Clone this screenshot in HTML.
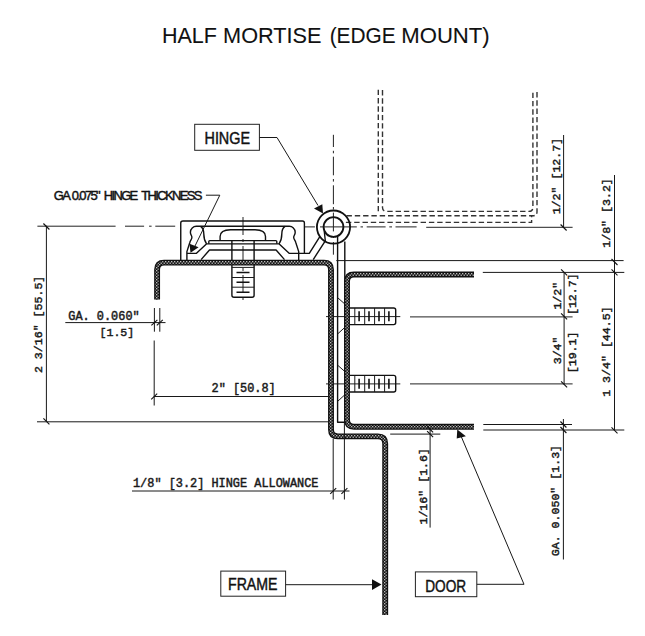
<!DOCTYPE html><html><head><meta charset="utf-8"><style>html,body{margin:0;padding:0;background:#fff;width:645px;height:636px;overflow:hidden}svg{display:block}</style></head><body>
<svg width="645" height="636" viewBox="0 0 645 636">
<defs>
<pattern id="dots" width="3" height="3" patternUnits="userSpaceOnUse">
<rect width="3" height="3" fill="#111"/>
<rect x="0.1" y="0.1" width="1.2" height="1.2" fill="#e6e6e6"/>
<rect x="1.6" y="1.6" width="1.2" height="1.2" fill="#e6e6e6"/>
</pattern>
</defs>
<rect width="645" height="636" fill="#fff"/>
<text x="161.9" y="43.2" font-family="Liberation Sans" font-size="22.8" fill="#111" stroke="#111" stroke-width="0.1" textLength="54.9" lengthAdjust="spacingAndGlyphs">HALF</text>
<text x="223.1" y="43.2" font-family="Liberation Sans" font-size="22.8" fill="#111" stroke="#111" stroke-width="0.1" textLength="98.4" lengthAdjust="spacingAndGlyphs">MORTISE</text>
<text x="329.7" y="43.2" font-family="Liberation Sans" font-size="22.8" fill="#111" stroke="#111" stroke-width="0.1" textLength="65.9" lengthAdjust="spacingAndGlyphs">(EDGE</text>
<text x="401.3" y="43.2" font-family="Liberation Sans" font-size="22.8" fill="#111" stroke="#111" stroke-width="0.1" textLength="88.4" lengthAdjust="spacingAndGlyphs">MOUNT)</text>
<path d="M378.3,89.7 V212.7" fill="none" stroke="#333" stroke-width="1.4" stroke-dasharray="5.4 2.9"/>
<path d="M346.5,215.7 H533 Q537,215.7 537,211.7 V90" fill="none" stroke="#333" stroke-width="1.4" stroke-dasharray="5.4 2.9"/>
<path d="M382.5,90 V207.4 Q382.5,211.4 386.5,211.4 H528.9 Q532.9,211.4 532.9,207.4 V90" fill="none" stroke="#333" stroke-width="1.4" stroke-dasharray="5.4 2.9"/>
<path d="M345.9,222.4 H531.6 V216" fill="none" stroke="#333" stroke-width="1.4" stroke-dasharray="5.4 2.9"/>
<path d="M37.4,226.2 H115.6 M125,226.2 H144.1 M149.1,226.2 H151.6 M155.3,226.2 H175.2 M305,226.9 H314.9 M320,226.9 H356.8 M360.5,226.9 H363 M366.7,226.9 H385.6 M389.3,226.9 H392 M395.5,226.9 H416.6 M426.2,227.3 H572.6" stroke="#222" stroke-width="1" fill="none"/>
<path d="M333.4,134.8 V147 M333.4,150.8 V153.3 M333.4,156.7 V175.3 M333.4,179 V181.6 M333.4,185.3 V204.2 M333.4,207 V209.5 M333.4,212.6 V231.4 M333.4,236 V238 M333.4,242 V254.7" stroke="#222" stroke-width="1" fill="none"/>
<path d="M243,217 V303.5" fill="none" stroke="#222" stroke-width="1" stroke-dasharray="18 4 3 4"/>
<path d="M326,316.6 H400.3 M410,316.9 H572.6 M326,383.9 H400.3 M410,383.9 H572.6" stroke="#222" stroke-width="1" fill="none"/>
<path d="M180.75,260 V223 Q180.75,221 183,221 H302.4 Q304.4,221 304.4,223 V253.4" fill="none" stroke="#111" stroke-width="1.4" stroke-linejoin="round"/>
<path d="M242.8,226.3 H289 A5.9,5.9 0 0 1 295.2,232.2 C295.2,234.8 293.7,235.5 293.7,237.3 C293.7,239.4 295.2,240.3 295.7,242.2 L298.7,251.6 V260" fill="none" stroke="#111" stroke-width="1.4" stroke-linejoin="round"/>
<path d="M242.8,226.3 H196.60000000000002 A5.9,5.9 0 0 0 190.40000000000003,232.2 C190.40000000000003,234.8 191.90000000000003,235.5 191.90000000000003,237.3 C191.90000000000003,239.4 190.40000000000003,240.3 189.90000000000003,242.2 L186.90000000000003,251.6 V260" fill="none" stroke="#111" stroke-width="1.4" stroke-linejoin="round"/>
<path d="M285,226.4 C282.5,228 281.8,231 281.8,234 C281.8,238 281.4,240.5 279,243.8" fill="none" stroke="#111" stroke-width="1.4" stroke-linejoin="round"/>
<path d="M200.60000000000002,226.4 C203.10000000000002,228 203.8,231 203.8,234 C203.8,238 204.20000000000005,240.5 206.60000000000002,243.8" fill="none" stroke="#111" stroke-width="1.4" stroke-linejoin="round"/>
<path d="M220.10000000000002,240.8 V236.5 C220.10000000000002,231.5 224.60000000000002,229.7 230.60000000000002,229.7 H255 C261,229.7 265.5,231.5 265.5,236.5 V240.8" fill="none" stroke="#111" stroke-width="1.4" stroke-linejoin="round"/>
<path d="M208.8,243.8 V241.6 Q208.8,240.6 209.8,240.6 H275.8 Q276.8,240.6 276.8,241.6 V243.8" fill="none" stroke="#111" stroke-width="1.4" stroke-linejoin="round"/>
<path d="M186.90000000000003,253.4 H196.20000000000005 L206.40000000000003,243.9 H279.2 L289.4,253.4 H309.3 L320,236.4" fill="none" stroke="#111" stroke-width="1.4" stroke-linejoin="round"/>
<path d="M201.10000000000002,259.6 L209.5,250 H276.1 L284.5,259.6" fill="none" stroke="#111" stroke-width="1.4" stroke-linejoin="round"/>
<path d="M313.2,259.6 L325.3,240.8 L324.3,231.5" fill="none" stroke="#111" stroke-width="1.4" stroke-linejoin="round"/>
<circle cx="333.5" cy="227.1" r="16.6" fill="none" stroke="#111" stroke-width="1.8"/>
<circle cx="333.5" cy="227" r="9.9" fill="none" stroke="#111" stroke-width="1.8"/>
<path d="M337.6,236 V422.3 H344.8 V241.5" fill="none" stroke="#111" stroke-width="1.4" stroke-linejoin="round"/>
<path d="M338,298 L344.6,303.8 M338,333.6 L344.6,327.6 M338,365.5 L344.6,371.3 M338,401 L344.6,395" fill="none" stroke="#1a1a1a" stroke-width="1"/>
<path d="M231.9,241 V295.3 Q231.9,297.3 234,297.3 H252.1 Q254.1,297.3 254.1,295.3 V241" fill="none" stroke="#111" stroke-width="1.4" stroke-linejoin="round"/>
<path d="M231.9,267.4 H254.1 M231.9,277.5 H254.1 M231.9,287.2 H254.1" fill="none" stroke="#1a1a1a" stroke-width="1"/>
<path d="M236.5,272.5 H249.5 M236.5,282.2 H249.5 M236.5,292.2 H249.5" fill="none" stroke="#111" stroke-width="1.6"/>
<path d="M349.8,308.0 H393.7 Q395.7,308.0 395.7,310.0 V322.6 Q395.7,324.6 393.7,324.6 H349.8" fill="none" stroke="#111" stroke-width="1.4" stroke-linejoin="round"/>
<path d="M354.8,308.0 V324.6 M364.7,308.0 V324.6 M374.6,308.0 V324.6 M384.6,308.0 V324.6 " fill="none" stroke="#1a1a1a" stroke-width="1"/>
<path d="M359.1,311.3 V321.3 M369,311.3 V321.3 M379,311.3 V321.3 M388.9,311.3 V321.3 " fill="none" stroke="#111" stroke-width="1.6"/>
<path d="M349.8,375.4 H393.7 Q395.7,375.4 395.7,377.4 V390.0 Q395.7,392.0 393.7,392.0 H349.8" fill="none" stroke="#111" stroke-width="1.4" stroke-linejoin="round"/>
<path d="M354.8,375.4 V392.0 M364.7,375.4 V392.0 M374.6,375.4 V392.0 M384.6,375.4 V392.0 " fill="none" stroke="#1a1a1a" stroke-width="1"/>
<path d="M359.1,378.7 V388.7 M369,378.7 V388.7 M379,378.7 V388.7 M388.9,378.7 V388.7 " fill="none" stroke="#111" stroke-width="1.6"/>
<path d="M157.1,299.4 V269.6 Q157.1,262.6 164.1,262.6 H324 Q331,262.6 331,269.6 V429.6 Q331,436.4 337.8,436.4 H377.9 Q385.2,436.4 385.2,443.7 V615" fill="none" stroke="#111" stroke-width="5.9" stroke-linejoin="round"/>
<path d="M157.1,299.4 V269.6 Q157.1,262.6 164.1,262.6 H324 Q331,262.6 331,269.6 V429.6 Q331,436.4 337.8,436.4 H377.9 Q385.2,436.4 385.2,443.7 V615" fill="none" stroke="url(#dots)" stroke-width="3.2" stroke-linejoin="round"/>
<path d="M474,274.5 H354 Q347,274.5 347,281.5 V419.8 Q347,426.8 354,426.8 H474" fill="none" stroke="#111" stroke-width="5.9" stroke-linejoin="round"/>
<path d="M474,274.5 H354 Q347,274.5 347,281.5 V419.8 Q347,426.8 354,426.8 H474" fill="none" stroke="url(#dots)" stroke-width="3.2" stroke-linejoin="round"/>
<path d="M46.4,225.8 V421.3" fill="none" stroke="#181818" stroke-width="1"/>
<path d="M43.4,223.5 L49.4,229.5" stroke="#111" stroke-width="1.1" fill="none"/>
<path d="M43.4,418.3 L49.4,424.3" stroke="#111" stroke-width="1.1" fill="none"/>
<path d="M37,421.8 H328" fill="none" stroke="#181818" stroke-width="1"/>
<path d="M154.4,308 V331.7 M159.8,308 V331.7" fill="none" stroke="#181818" stroke-width="1"/>
<path d="M65.3,322.6 H165.5" fill="none" stroke="#181818" stroke-width="1"/>
<path d="M151.4,325.40000000000003 L157.4,319.8" stroke="#111" stroke-width="1.1" fill="none"/>
<path d="M156.8,325.40000000000003 L162.8,319.8" stroke="#111" stroke-width="1.1" fill="none"/>
<path d="M154.2,340.5 V405.5" fill="none" stroke="#181818" stroke-width="1"/>
<path d="M154.2,396.5 H328" fill="none" stroke="#181818" stroke-width="1"/>
<path d="M151.2,399.3 L157.2,393.7" stroke="#111" stroke-width="1.1" fill="none"/>
<path d="M333.2,439 V499.5 M344.4,422.5 V499.5" fill="none" stroke="#181818" stroke-width="1"/>
<path d="M132,491 H349.5" fill="none" stroke="#181818" stroke-width="1"/>
<path d="M330.2,493.8 L336.2,488.2" stroke="#111" stroke-width="1.1" fill="none"/>
<path d="M341.4,493.8 L347.4,488.2" stroke="#111" stroke-width="1.1" fill="none"/>
<path d="M563.6,135 V228" fill="none" stroke="#181818" stroke-width="1"/>
<path d="M560.6,224.5 L566.6,230.5" stroke="#111" stroke-width="1.1" fill="none"/>
<path d="M614.5,175 V430.3" fill="none" stroke="#181818" stroke-width="1"/>
<path d="M611.5,259 L617.5,265" stroke="#111" stroke-width="1.1" fill="none"/>
<path d="M611.5,269.4 L617.5,275.4" stroke="#111" stroke-width="1.1" fill="none"/>
<path d="M611.5,427.3 L617.5,433.3" stroke="#111" stroke-width="1.1" fill="none"/>
<path d="M336.3,260.6 H623.6" fill="none" stroke="#181818" stroke-width="1"/>
<path d="M482.8,272.4 H624.3" fill="none" stroke="#181818" stroke-width="1"/>
<path d="M564.1,272.4 V384.4" fill="none" stroke="#181818" stroke-width="1"/>
<path d="M561.1,269.4 L567.1,275.4" stroke="#111" stroke-width="1.1" fill="none"/>
<path d="M561.1,313.3 L567.1,319.3" stroke="#111" stroke-width="1.1" fill="none"/>
<path d="M561.1,381.4 L567.1,387.4" stroke="#111" stroke-width="1.1" fill="none"/>
<path d="M483.3,424.5 H572" fill="none" stroke="#181818" stroke-width="1"/>
<path d="M483.3,430 H624.3" fill="none" stroke="#181818" stroke-width="1"/>
<path d="M563.4,419 V559.5" fill="none" stroke="#181818" stroke-width="1"/>
<path d="M560.4,421.5 L566.4,427.5" stroke="#111" stroke-width="1.1" fill="none"/>
<path d="M560.4,427 L566.4,433" stroke="#111" stroke-width="1.1" fill="none"/>
<path d="M390.2,434.1 H440.3" fill="none" stroke="#181818" stroke-width="1"/>
<path d="M430.1,428 V527.6" fill="none" stroke="#181818" stroke-width="1"/>
<path d="M427.1,426.4 L433.1,432.4" stroke="#111" stroke-width="1.1" fill="none"/>
<path d="M427.1,431.1 L433.1,437.1" stroke="#111" stroke-width="1.1" fill="none"/>
<path d="M259.4,137.5 H277 L318,205.5" fill="none" stroke="#181818" stroke-width="1"/>
<polygon points="323,213.5 314,208.6 322.3,204.2" fill="#111"/>
<path d="M205.9,195.2 H219.8 L195,246" fill="none" stroke="#181818" stroke-width="1"/>
<polygon points="190.5,252.8 189.5,243.8 198.6,247.2" fill="#111"/>
<path d="M285.6,584.7 H372" fill="none" stroke="#181818" stroke-width="1"/>
<polygon points="381.5,584.6 372,579.3 372,589.9" fill="#111"/>
<path d="M476.8,584.3 H524 L461,436" fill="none" stroke="#181818" stroke-width="1"/>
<polygon points="457.3,429.4 456.7,438.6 465.9,436.2" fill="#111"/>
<rect x="194.7" y="124.3" width="64.7" height="26" fill="none" stroke="#222" stroke-width="1"/>
<text x="204.5" y="143.5" font-family="Liberation Sans" font-size="16" fill="#111" stroke="#111" stroke-width="0.45" textLength="45.5" lengthAdjust="spacingAndGlyphs">HINGE</text>
<rect x="220.8" y="571.1" width="64.8" height="25.1" fill="none" stroke="#222" stroke-width="1"/>
<text x="228" y="590" font-family="Liberation Sans" font-size="16.5" fill="#111" stroke="#111" stroke-width="0.45" textLength="49.5" lengthAdjust="spacingAndGlyphs">FRAME</text>
<rect x="415.4" y="571.9" width="61.4" height="24.8" fill="none" stroke="#222" stroke-width="1"/>
<text x="425.2" y="591.5" font-family="Liberation Sans" font-size="16.5" fill="#111" stroke="#111" stroke-width="0.45" textLength="41" lengthAdjust="spacingAndGlyphs">DOOR</text>
<text y="199.8" font-family="Liberation Sans" font-size="13" letter-spacing="-1.65" fill="#111" stroke="#111" stroke-width="0.45"><tspan x="53.8">GA</tspan><tspan x="71.8">0.075"</tspan><tspan x="103.7">HINGE</tspan><tspan x="141.2">THICKNESS</tspan></text>
<text x="68.3" y="320.3" font-family="Liberation Mono" font-size="11.9" fill="#1a1a1a" stroke="#1a1a1a" stroke-width="0.45">GA. 0.060"</text>
<text x="99.5" y="335.5" font-family="Liberation Mono" font-size="11.6" fill="#1a1a1a" stroke="#1a1a1a" stroke-width="0.45">[1.5]</text>
<text x="211.5" y="392.2" font-family="Liberation Mono" font-size="11.9" fill="#1a1a1a" stroke="#1a1a1a" stroke-width="0.45">2" [50.8]</text>
<text x="318.5" y="487" text-anchor="end" font-family="Liberation Mono" font-size="11.9" fill="#1a1a1a" stroke="#1a1a1a" stroke-width="0.45">1/8" [3.2] HINGE ALLOWANCE</text>
<text transform="translate(42.2,324.4) rotate(-90)" text-anchor="middle" font-family="Liberation Mono" font-size="11.6" fill="#1a1a1a" stroke="#1a1a1a" stroke-width="0.45">2 3/16" [55.5]</text>
<text transform="translate(560.1,176.1) rotate(-90)" text-anchor="middle" font-family="Liberation Mono" font-size="11.6" fill="#1a1a1a" stroke="#1a1a1a" stroke-width="0.45">1/2" [12.7]</text>
<text transform="translate(610.3,213) rotate(-90)" text-anchor="middle" font-family="Liberation Mono" font-size="11.6" fill="#1a1a1a" stroke="#1a1a1a" stroke-width="0.45">1/8" [3.2]</text>
<text transform="translate(560.6,295.7) rotate(-90)" text-anchor="middle" font-family="Liberation Mono" font-size="11.6" fill="#1a1a1a" stroke="#1a1a1a" stroke-width="0.45">1/2"</text>
<text transform="translate(576.2,294.2) rotate(-90)" text-anchor="middle" font-family="Liberation Mono" font-size="11.6" fill="#1a1a1a" stroke="#1a1a1a" stroke-width="0.45">[12.7]</text>
<text transform="translate(560.6,350.4) rotate(-90)" text-anchor="middle" font-family="Liberation Mono" font-size="11.6" fill="#1a1a1a" stroke="#1a1a1a" stroke-width="0.45">3/4"</text>
<text transform="translate(576.2,352.4) rotate(-90)" text-anchor="middle" font-family="Liberation Mono" font-size="11.6" fill="#1a1a1a" stroke="#1a1a1a" stroke-width="0.45">[19.1]</text>
<text transform="translate(610.3,351.6) rotate(-90)" text-anchor="middle" font-family="Liberation Mono" font-size="11.6" fill="#1a1a1a" stroke="#1a1a1a" stroke-width="0.45">1 3/4" [44.5]</text>
<text transform="translate(426.5,486.3) rotate(-90)" text-anchor="middle" font-family="Liberation Mono" font-size="11.6" fill="#1a1a1a" stroke="#1a1a1a" stroke-width="0.45">1/16" [1.6]</text>
<text transform="translate(559,500.6) rotate(-90)" text-anchor="middle" font-family="Liberation Mono" font-size="11.6" fill="#1a1a1a" stroke="#1a1a1a" stroke-width="0.45">GA. 0.050" [1.3]</text>
</svg></body></html>
